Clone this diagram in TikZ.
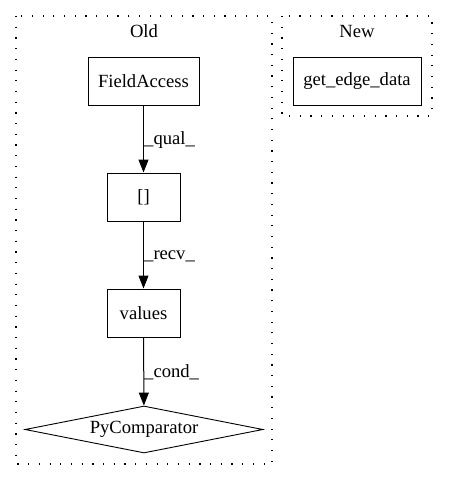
\documentclass[tikz,border=0pt]{standalone}
\usepackage{fontspec}
\setmainfont{Liberation Serif}
\usetikzlibrary{shapes.geometric,arrows.meta}
\begin{document}
\begin{tikzpicture}[x=1pt,y=-1pt,
  every node/.style={font=\fontsize{18.6}{21}\selectfont},
  box/.style={draw,line width=1pt,rectangle,inner sep=0pt},
  cluster/.style={draw,line width=1.2pt,dash pattern=on 1.2pt off 9.5pt},
  edge/.style={draw,line width=1pt,-{Triangle[length=13pt,width=10pt]}},
  lbl/.style={anchor=west,inner sep=0pt}]
\useasboundingbox (0,0) rectangle (448,480);
\draw[cluster] (16,16) rectangle (272,464);
\draw[cluster] (282,16) rectangle (432,116);
\node[inner sep=0pt] (oldt) at (144,31) {Old};
\node[inner sep=0pt] (newt) at (357,31) {New};
\node[box,minimum width=111pt,minimum height=48pt] (fa) at (143.5,81) {FieldAccess};
\node[box,minimum width=128pt,minimum height=48pt] (ged) at (357,81) {get\_edge\_data};
\node[box,minimum width=73pt,minimum height=48pt] (br) at (143.5,197) {[]};
\node[box,minimum width=73pt,minimum height=48pt] (val) at (143.5,313) {values};
\node[draw,line width=0.9pt,diamond,aspect=5,inner sep=0pt,minimum width=238pt,minimum height=47pt] (pc) at (144,429.5) {PyComparator};
\draw[edge] (fa) -- (br);
\draw[edge] (br) -- (val);
\draw[edge] (val) -- (pc);
\node[lbl] (l1) at (144,140) {\_qual\_};
\node[lbl] (l2) at (144,256) {\_recv\_};
\node[lbl] (l3) at (144,372) {\_cond\_};
\end{tikzpicture}
\end{document}
